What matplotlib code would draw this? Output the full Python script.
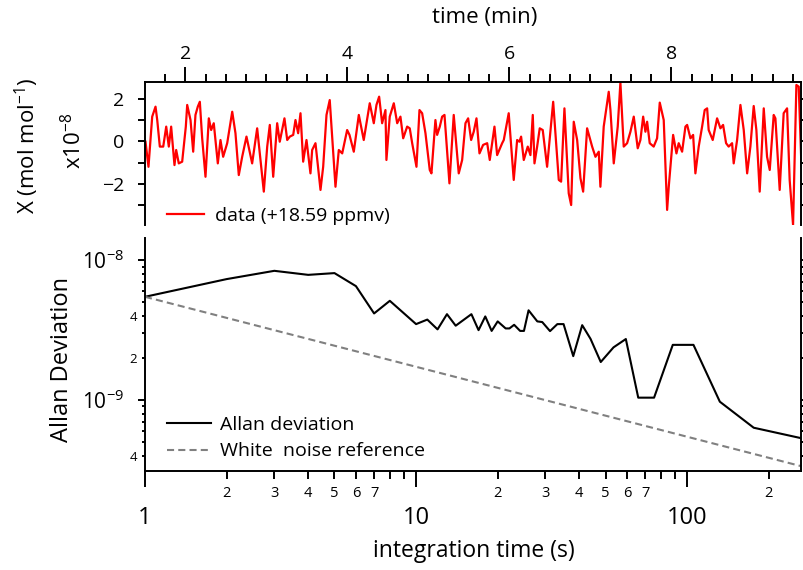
import matplotlib
matplotlib.use("Agg")
import matplotlib.pyplot as plt
import numpy as np

plt.rcParams['font.family'] = ['Open Sans', 'DejaVu Sans']
plt.rcParams['mathtext.fontset'] = 'custom'
plt.rcParams['mathtext.rm'] = 'Open Sans'
plt.rcParams['mathtext.it'] = 'Open Sans'
plt.rcParams['mathtext.default'] = 'regular'

# ---- time series (offset removed, units of 1e-8 mol/mol) ----
t_min = [1.506, 1.543, 1.589, 1.630, 1.651, 1.683, 1.725, 1.762, 1.794, 1.823,
         1.864, 1.885, 1.917, 1.959, 2.004, 2.021, 2.062, 2.095, 2.123, 2.152,
         2.177, 2.206, 2.247, 2.288, 2.317, 2.349, 2.399, 2.432, 2.465, 2.515,
         2.577, 2.617, 2.658, 2.700, 2.753, 2.823, 2.885, 2.967, 3.009, 3.041,
         3.083, 3.132, 3.164, 3.222, 3.256, 3.288, 3.330, 3.358, 3.391, 3.420,
         3.453, 3.494, 3.543, 3.564, 3.605, 3.667, 3.700, 3.741, 3.781, 3.831,
         3.852, 3.893, 3.935, 3.996, 4.025, 4.078, 4.140, 4.201, 4.231, 4.275,
         4.325, 4.358, 4.391, 4.428, 4.469, 4.481, 4.522, 4.572, 4.614, 4.654,
         4.688, 4.737, 4.769, 4.799, 4.852, 4.889, 4.922, 4.963, 5.016, 5.037,
         5.086, 5.107, 5.140, 5.169, 5.198, 5.259, 5.312, 5.374, 5.416, 5.457,
         5.490, 5.527, 5.559, 5.593, 5.630, 5.675, 5.725, 5.757, 5.815, 5.848,
         5.910, 5.930, 5.991, 6.053, 6.095, 6.123, 6.144, 6.177, 6.226, 6.259,
         6.288, 6.309, 6.342, 6.374, 6.411, 6.465, 6.540, 6.609, 6.638, 6.679,
         6.732, 6.762, 6.794, 6.836, 6.877, 6.910, 6.959, 7.021, 7.062, 7.103,
         7.123, 7.164, 7.226, 7.247, 7.288, 7.337, 7.370, 7.411, 7.453, 7.494,
         7.535, 7.584, 7.617, 7.651, 7.679, 7.700, 7.732, 7.781, 7.823, 7.856,
         7.905, 7.947, 7.967, 8.021, 8.062, 8.090, 8.132, 8.173, 8.194, 8.235,
         8.268, 8.296, 8.337, 8.379, 8.411, 8.441, 8.460, 8.510, 8.564, 8.605,
         8.638, 8.675, 8.707, 8.749, 8.769, 8.811, 8.852, 8.893, 8.935, 8.975,
         9.016, 9.049, 9.090, 9.140, 9.181, 9.214, 9.263, 9.284, 9.337, 9.386,
         9.428, 9.460, 9.502, 9.543, 9.572, 9.605]
x_val = [-0.01, -1.19, 1.17, 1.64, 1.01, -0.24, -0.24, 0.70, -0.24, 0.70,
         -1.11, -0.40, -1.03, -0.95, 0.70, 1.72, 1.01, -0.48, 1.25, 1.64,
         1.87, 0.15, -1.66, 1.09, 0.54, 0.86, -1.03, 0.07, -0.72, -0.08,
         1.40, 0.39, -1.58, -0.72, 0.23, -1.03, 0.62, -2.36, -0.24, 0.78,
         -1.66, 0.86, -0.01, 1.09, 0.07, 0.23, 0.31, 1.01, 0.39, 1.33,
         -0.95, 0.07, -1.50, -0.40, -0.08, -2.28, -1.19, 1.25, 1.95, -0.87,
         -2.13, -0.40, -0.56, 0.54, 0.31, -0.48, 1.25, 0.07, 0.78, 1.80,
         0.86, 1.72, 2.11, 0.86, 1.48, -0.87, 1.17, 1.80, 0.86, 1.17,
         0.15, 0.70, 0.62, -0.08, -1.19, 1.48, 1.33, 0.39, -1.34, -1.50,
         1.01, 0.31, 0.70, 1.17, 1.25, -1.97, 1.25, -1.50, -0.87, 0.86,
         1.09, 0.07, 0.46, 1.09, -0.56, -0.16, -0.08, -0.87, 0.70, -0.64,
         -0.08, 0.07, 1.33, -1.81, 0.07, -0.01, 0.23, -0.87, -0.24, -0.64,
         1.25, -1.03, -0.24, 0.62, 0.54, -1.19, 1.87, -1.81, -1.89, 1.56,
         -2.44, -2.99, 0.93, 0.07, -1.73, -2.36, 0.62, -0.24, -0.72, -0.48,
         -2.13, 0.70, 2.34, 1.48, -1.03, 0.70, 2.77, -0.24, -0.08, 0.46,
         1.17, -0.32, 0.07, 1.17, 0.46, 0.93, -0.08, -0.24, 0.15, 1.83,
         1.01, -3.22, -2.13, 0.31, -0.56, -0.08, -0.48, 0.70, 0.78, 0.15,
         0.31, -1.50, -0.24, 0.70, 1.48, 1.56, 0.54, 0.07, 1.09, 0.62,
         0.78, -0.08, -0.24, -0.08, -1.03, 0.07, 1.72, 0.54, -1.50, -0.24,
         1.67, 0.54, -2.36, 1.56, -0.72, -1.34, 1.25, 1.09, -2.28, 1.33,
         1.56, -1.81, -3.93, 2.66, 2.58, -1.11]

# ---- Allan deviation ----
tau = [1, 2, 3, 4, 5, 6, 7, 8, 10, 11, 12, 13, 14, 16, 17, 18, 19, 20, 21.4, 22.1,
       23, 24.2, 25, 26, 28, 29.2, 31.2, 33.2, 35, 38, 41, 44, 48, 53.5, 59.4,
       66, 75.5, 88.5, 105.5, 132, 176, 262]
adev = [5.47e-9, 7.32e-9, 8.39e-9, 7.85e-9, 8.08e-9, 6.52e-9, 4.16e-9, 5.12e-9,
        3.49e-9, 3.76e-9, 3.20e-9, 4.11e-9, 3.40e-9, 4.11e-9, 3.16e-9, 3.96e-9,
        3.12e-9, 3.65e-9, 3.25e-9, 3.25e-9, 3.45e-9, 3.12e-9, 3.12e-9, 4.38e-9,
        3.65e-9, 3.61e-9, 3.11e-9, 3.49e-9, 3.49e-9, 2.06e-9, 3.43e-9, 2.74e-9,
        1.87e-9, 2.38e-9, 2.73e-9, 1.04e-9, 1.04e-9, 2.48e-9, 2.48e-9, 9.73e-10,
        6.34e-10, 5.35e-10]
# white noise reference, slope -1/2 from the 1 s point
ref_tau = [1, 263]
ref_dev = [5.47e-9, 3.37e-10]

W, H = 804, 570
fig = plt.figure(figsize=(W / 100, H / 100), dpi=100)
ax1 = fig.add_axes([145 / W, 1 - 225 / H, 656 / W, 143 / H])
ax2 = fig.add_axes([145 / W, 1 - 471 / H, 656 / W, 233 / H])

lw_axis = 1.4

# ---------- top panel ----------
ax1.plot(t_min, x_val, color='#ff0000', lw=1.6, label='data (+18.59 ppmv)')
ax1.set_xlim(1.5, 9.6)
ax1.set_ylim(-3.93, 2.8)
ax1.spines['bottom'].set_visible(False)
for s in ('top', 'left', 'right'):
    ax1.spines[s].set_linewidth(lw_axis)
ax1.xaxis.tick_top()
ax1.set_xticks([2, 4, 6, 8])
ax1.set_xticks(np.arange(1.75, 9.6, 0.25), minor=True)
ax1.set_yticks([-2, 0, 2])
ax1.set_yticks([-3, -1, 1], minor=True)
ax1.tick_params(axis='x', which='major', direction='out', length=10.8, width=lw_axis,
                labelsize=14, pad=3)
ax1.tick_params(axis='x', which='minor', direction='out', length=5.8, width=lw_axis)
ax1.tick_params(axis='y', which='both', direction='out', length=5, width=lw_axis,
                labelsize=14, pad=10, right=True, labelright=False)
ax1.legend(loc='center left', bbox_to_anchor=(0.0335, 0.063), frameon=False,
           fontsize=14, borderpad=0, borderaxespad=0, handlelength=1.9,
           handletextpad=0.57)

# ---------- bottom panel ----------
ax2.plot(tau, adev, color='black', lw=1.5, label='Allan deviation')
ax2.plot(ref_tau, ref_dev, color='#808080', lw=1.5, ls=(0, (3.4, 2.0)),
         label='White  noise reference')
ax2.set_xscale('log')
ax2.set_yscale('log')
ax2.set_xlim(1, 263)
ax2.set_ylim(3.11e-10, 1.44e-8)
ax2.spines['top'].set_visible(False)
for s in ('bottom', 'left', 'right'):
    ax2.spines[s].set_linewidth(lw_axis)

ax2.set_xticks([1, 10, 100], labels=['1', '10', '100'])
xminor = [2, 3, 4, 5, 6, 7, 8, 9, 20, 30, 40, 50, 60, 70, 80, 90, 200]
xminor_lab = ['2', '3', '4', '5', '6', '7', '', '', '2', '3', '4', '5', '6', '7',
              '', '', '2']
ax2.set_xticks(xminor, labels=xminor_lab, minor=True)
ax2.tick_params(axis='x', which='major', direction='out', length=11.5, width=lw_axis,
                labelsize=17, pad=14)
ax2.tick_params(axis='x', which='minor', direction='out', length=5.8, width=lw_axis,
                labelsize=10.5, pad=5)

ax2.set_yticks([1e-9, 1e-8], labels=['$10^{-9}$', '$10^{-8}$'])
yminor = [4e-10, 5e-10, 6e-10, 7e-10, 8e-10, 9e-10,
          2e-9, 3e-9, 4e-9, 5e-9, 6e-9, 7e-9, 8e-9, 9e-9]
yminor_lab = ['4', '', '', '', '', '', '2', '', '4', '', '', '', '', '']
ax2.set_yticks(yminor, labels=yminor_lab, minor=True)
ax2.tick_params(axis='y', which='major', direction='out', length=5, width=lw_axis,
                labelsize=15, pad=10, right=True, labelright=False)
ax2.tick_params(axis='y', which='minor', direction='out', length=2.5, width=lw_axis,
                labelsize=9.5, pad=3, right=True, labelright=False)
ax2.legend(loc='center left', bbox_to_anchor=(0.0335, 0.1416), frameon=False,
           fontsize=14, borderpad=0, borderaxespad=0, handlelength=2.27,
           handletextpad=0.46, labelspacing=0.45)

# ---------- axis titles ----------
fig.text(485 / W, 1 - 17 / H, 'time (min)', ha='center', va='center', fontsize=16)
fig.text(474 / W, 1 - 551 / H, 'integration time (s)', ha='center', va='center',
         fontsize=16.5)
fig.text(27 / W, 1 - 146 / H, 'X (mol mol$^{-1}$)', ha='center', va='center',
         rotation=90, fontsize=16)
fig.text(74 / W, 1 - 141 / H, 'x10$^{-8}$', ha='center', va='center',
         rotation=90, fontsize=16)
fig.text(62 / W, 1 - 359.5 / H, 'Allan Deviation', ha='center', va='center',
         rotation=90, fontsize=17)

fig.savefig('out.png', dpi=100)
